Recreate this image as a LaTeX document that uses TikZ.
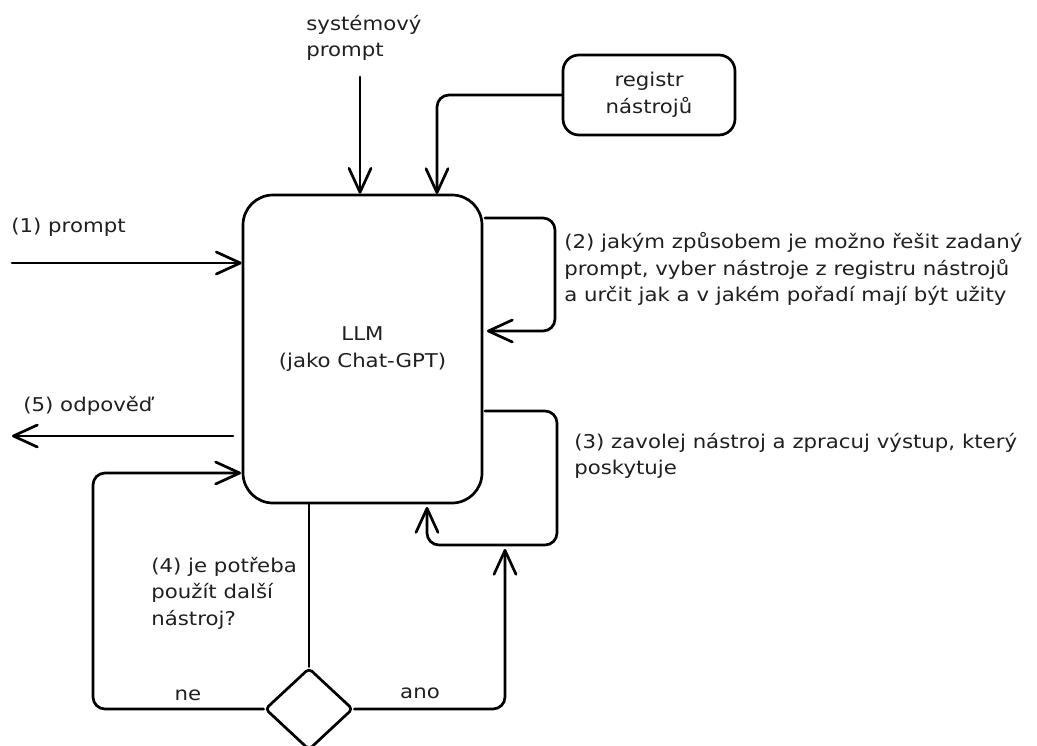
\documentclass[tikz,border=0pt]{standalone}
\usepackage{fontspec}
\setmainfont[FakeStretch=1.12]{DejaVu Sans}
\usetikzlibrary{arrows.meta,shapes.geometric}
\begin{document}
\begin{tikzpicture}[x=1pt,y=-1pt,
  line width=2.7pt, line join=round, line cap=round,
  every node/.style={font=\fontsize{19}{26.5}\selectfont, text=black!88},
  flow/.style={-{Straight Barb[length=24pt,width=22pt,round]}, rounded corners=12pt},
  lbl/.style={align=left, inner sep=0pt, anchor=west},
  edgelbl/.style={inner sep=0pt},
]
\useasboundingbox (0,0) rectangle (1037,745);

% main processing block and the tool registry
\node[draw, rounded corners=30pt, minimum width=239pt, minimum height=308pt,
      align=center] (llm) at (362.5,349) {LLM\\(jako Chat-GPT)};
\node[draw, rounded corners=16pt, minimum width=172pt, minimum height=80pt,
      align=center] (reg) at (649,95) {registr\\nástrojů};
\node[draw, diamond, rounded corners=4pt, minimum width=88pt, minimum height=82pt,
      inner sep=0pt] (dec) at (309,709) {};

% free text
\node[lbl] (sys) at (305,38) {systémový\\prompt};
\node[lbl] (t1) at (10,227) {(1) prompt};
\node[lbl] (t2) at (563,269) {(2) jakým způsobem je možno řešit zadaný\\prompt, vyber nástroje z registru nástrojů\\a určit jak a v jakém pořadí mají být užity};
\node[lbl] (t3) at (573,456) {(3) zavolej nástroj a zpracuj výstup, který\\poskytuje};
\node[lbl] (t4) at (150,593) {(4) je potřeba\\použít další\\nástroj?};
\node[lbl] (t5) at (22,406) {(5) odpověď};
\node[edgelbl] (lne) at (188,695) {ne};
\node[edgelbl] (lano) at (420,693) {ano};

% end points of the open connectors
\coordinate (pin) at (12,263);
\coordinate (sysin) at (360,77);
\coordinate (regin) at (437,194);
\coordinate (l2a) at (485,218);
\coordinate (l2b) at (487,331);
\coordinate (l3a) at (485,411);
\coordinate (l3b) at (427,507);
\coordinate (outa) at (233,436);
\coordinate (outb) at (12,436);
\coordinate (nein) at (241,473);
\coordinate (anoin) at (505,549);

% connectors
\draw[flow] (pin) -- (pin -| llm.west);
\draw[flow] (sysin) -- (sysin |- llm.north);
\draw[flow] (reg.west) -| (regin);
\draw[flow] (l2a) -- (555,218) -- (555,331) -- (l2b);
\draw[flow] (l3a) -- (557,411) -- (557,545) -- (427,545) -- (l3b);
\draw[flow] (outa) -- (outb);
\draw (llm.south -| dec.north) -- (dec.north);
\draw[flow] (dec.west) -- (93,709) -- (93,473) -- (nein);
\draw[flow] (dec.east) -| (anoin);
\end{tikzpicture}
\end{document}
